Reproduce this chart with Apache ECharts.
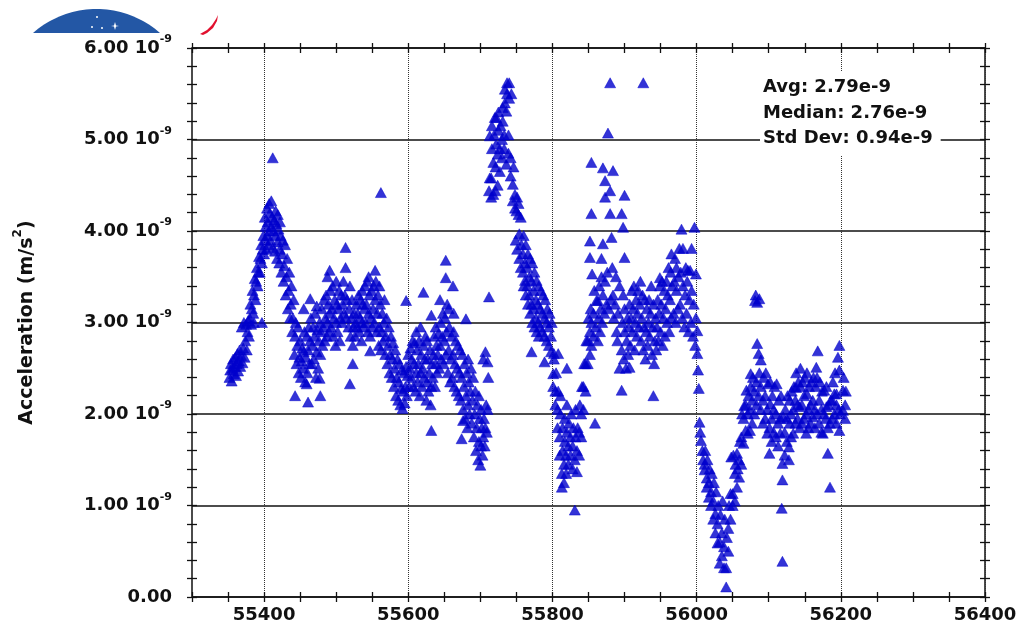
<!DOCTYPE html>
<html>
<head>
<meta charset="utf-8">
<script src="https://cdn.jsdelivr.net/npm/echarts@6/dist/echarts.min.js"></script>
<style>
  html, body { margin: 0; padding: 0; background: #fff; }
  #main { width: 1017px; height: 631px; }
</style>
</head>
<body>
<div id="main"></div>
<script>
// x = MJD (days), y = acceleration in units of 1e-9 m/s^2

// rise and first peak
var peak1 = [
  [55352,2.40],[55353,2.48],[55354,2.55],[55355,2.36],[55356,2.50],[55357,2.60],
  [55358,2.44],[55359,2.52],[55360,2.62],[55361,2.42],[55362,2.55],[55363,2.66],
  [55364,2.47],[55365,2.58],[55366,2.70],[55367,2.52],[55368,2.64],[55369,2.95],
  [55370,2.56],[55371,2.72],[55372,3.00],[55373,2.62],[55374,2.80],[55375,2.98],
  [55376,2.70],[55377,2.90],[55378,3.02],[55379,2.85],[55380,3.05],[55381,3.20],
  [55382,2.98],[55383,3.15],[55384,3.35],[55385,3.10],[55386,3.30],[55387,3.48],[55386,3.00],
  [55388,3.25],[55389,3.45],[55390,3.60],[55391,3.40],[55392,3.55],[55393,3.72],
  [55394,3.55],[55395,3.70],[55396,3.85],[55397,3.65],[55398,3.80],[55399,3.95],[55397,3.00],
  [55400,3.75],[55401,3.90],[55402,4.05],[55401,4.15],[55403,3.80],[55404,3.95],[55405,4.10],[55404,4.25],
  [55406,3.85],[55407,4.00],[55408,4.20],[55407,4.30],[55409,3.90],[55410,4.05],[55411,4.15],[55410,4.33],
  [55412,3.82],[55413,4.00],[55414,4.12],[55412,4.80],[55415,3.78],[55416,3.95],[55417,4.08],[55416,4.22],
  [55418,3.70],[55419,3.88],[55420,4.02],[55419,4.18],[55421,3.65],[55422,3.80],[55423,3.95],[55422,4.10],
  [55424,3.55],[55425,3.75],[55426,3.90],[55427,3.45],[55428,3.62],[55429,3.85],
  [55430,3.30],[55431,3.50],[55432,3.70],[55433,3.15],[55434,3.35],[55435,3.55],
  [55436,3.05],[55437,3.20],[55438,3.40],[55439,2.90],[55440,3.05],[55441,3.25]
];

var plateau1 = [
  [55442,2.65],[55443,2.85],[55444,3.00],[55445,2.55],[55446,2.75],[55447,2.95],
  [55448,2.45],[55449,2.62],[55450,2.80],[55443,2.20],[55451,2.40],[55452,2.58],[55453,2.72],
  [55454,2.50],[55455,2.68],[55456,2.90],[55455,3.15],[55457,2.35],[55458,2.62],[55459,2.85],[55464,3.26],
  [55460,2.45],[55461,2.70],[55462,2.95],[55461,2.13],[55459,2.33],[55463,2.55],[55464,2.80],[55465,3.05],
  [55466,2.55],[55467,2.75],[55468,2.95],[55469,2.60],[55470,2.85],[55471,3.10],[55473,3.18],
  [55472,2.40],[55473,2.68],[55474,2.92],[55475,2.50],[55476,2.80],[55477,3.00],[55477,2.39],[55478,2.20],
  [55478,2.65],[55479,2.90],[55480,3.15],[55481,2.75],[55482,2.95],[55483,3.25],
  [55484,2.80],[55485,3.05],[55486,3.30],[55487,2.85],[55488,3.00],[55489,3.20],[55488,3.50],
  [55490,2.90],[55491,3.10],[55492,3.35],[55491,3.57],[55493,2.95],[55494,3.15],[55495,3.40],
  [55496,2.85],[55497,3.05],[55498,3.25],[55499,2.75],[55500,3.00],[55501,3.20],[55500,3.45],
  [55502,2.90],[55503,3.15],[55504,3.35],[55505,2.80],[55506,3.05],[55507,3.30],
  [55508,3.00],[55509,3.20],[55510,3.45],[55511,3.10],[55512,3.30],[55513,3.60],
  [55514,3.05],[55515,3.25],[55513,3.82],[55517,2.95],[55518,3.15],[55519,3.40],[55519,2.33],
  [55520,2.85],[55521,3.05],[55522,3.25],[55523,2.75],[55524,2.95],[55525,3.10],[55523,2.55],
  [55526,2.85],[55527,3.00],[55528,3.20],[55529,2.95],[55530,3.10],[55531,3.30],
  [55532,2.90],[55533,3.05],[55534,3.25],[55535,2.80],[55536,3.00],[55537,3.20],[55536,3.35],
  [55538,2.95],[55539,3.15],[55540,3.40],[55541,3.00],[55542,3.20],[55543,3.45],
  [55544,2.90],[55545,3.10],[55546,3.30],[55545,3.50],[55547,2.85],[55548,3.05],[55549,3.35],[55547,2.69],
  [55550,2.95],[55551,3.15],[55552,3.40],[55554,3.57],[55553,3.00],[55554,3.25],[55555,3.45],
  [55556,2.90],[55557,3.10],[55558,3.30],[55559,2.75],[55560,2.95],[55561,3.20],[55560,3.40],
  [55562,2.70],[55563,2.90],[55564,3.10],[55562,4.42],[55565,2.80],[55566,3.00],[55567,3.25],
  [55568,2.65],[55569,2.85],[55570,3.05],[55571,2.55],[55572,2.75],[55573,2.95],
  [55574,2.45],[55575,2.65],[55576,2.85],[55577,2.40],[55578,2.60],[55579,2.78],
  [55580,2.30],[55581,2.50],[55582,2.70],[55583,2.20],[55584,2.40],[55585,2.60],
  [55586,2.15],[55587,2.35],[55588,2.55],[55589,2.10],[55590,2.28],[55591,2.48],
  [55592,2.06],[55593,2.25],[55594,2.45],[55595,2.12],[55596,2.30],[55597,2.52],[55597,3.24],
  [55598,2.20],[55599,2.42],[55600,2.65]
];

var plateau2 = [
  [55601,2.30],[55602,2.50],[55603,2.72],[55604,2.40],[55605,2.60],[55606,2.80],
  [55607,2.30],[55608,2.55],[55609,2.78],[55610,2.25],[55611,2.45],[55612,2.70],[55611,2.90],
  [55613,2.35],[55614,2.55],[55615,2.80],[55616,2.20],[55617,2.45],[55618,2.65],[55617,2.95],
  [55619,2.30],[55620,2.50],[55621,2.75],[55621,3.33],[55622,2.40],[55623,2.60],[55624,2.85],
  [55625,2.15],[55626,2.35],[55627,2.60],[55626,2.80],[55628,2.25],[55629,2.45],[55630,2.70],
  [55631,2.10],[55632,2.30],[55633,2.55],[55632,3.08],[55632,1.82],[55634,2.40],[55635,2.65],[55636,2.85],
  [55637,2.30],[55638,2.55],[55639,2.75],[55638,2.95],[55640,2.45],[55641,2.65],[55642,2.88],
  [55643,2.50],[55644,2.75],[55645,3.00],[55644,3.25],[55646,2.60],[55647,2.85],[55648,3.10],
  [55649,2.55],[55650,2.80],[55651,3.05],[55652,3.49],[55652,3.68],[55652,2.65],[55653,2.90],[55654,3.20],
  [55655,2.45],[55656,2.70],[55657,2.95],[55656,3.15],[55658,2.35],[55659,2.60],[55660,2.85],[55662,3.40],
  [55661,2.40],[55662,2.65],[55663,2.90],[55663,3.10],[55664,2.30],[55665,2.55],[55666,2.80],
  [55667,2.25],[55668,2.50],[55669,2.75],[55670,2.20],[55671,2.45],[55672,2.70],
  [55673,2.15],[55674,2.40],[55675,2.65],[55674,1.73],[55676,2.05],[55677,2.30],[55678,2.55],[55676,1.93],
  [55679,1.95],[55680,2.20],[55681,2.45],[55680,3.04],[55682,1.85],[55683,2.10],[55684,2.35],[55683,2.60],
  [55685,2.00],[55686,2.25],[55687,2.50],[55688,1.90],[55689,2.15],[55690,2.40],
  [55691,1.75],[55692,2.00],[55693,2.25],[55694,1.60],[55695,1.85],[55696,2.10],
  [55697,1.50],[55698,1.70],[55699,1.95],[55698,2.20],[55700,1.44],[55701,1.65],[55702,1.85],[55701,2.05],
  [55703,1.55],[55704,1.75],[55705,1.95],[55704,2.60],[55706,1.65],[55707,1.85],[55708,2.10],[55707,2.68],
  [55709,1.80],[55710,2.05],[55711,2.40],[55710,2.57]
];

// second peak and decay
var peak2 = [
  [55712,3.28],[55712,4.44],[55713,4.58],[55713,5.04],[55715,4.37],[55715,4.58],[55716,4.90],[55716,5.15],
  [55718,4.40],[55718,4.75],[55719,5.05],[55720,5.24],[55721,4.44],[55721,4.70],[55722,4.95],[55722,5.24],
  [55724,4.50],[55724,4.84],[55725,5.10],[55725,5.30],[55727,4.65],[55727,4.90],[55728,5.15],
  [55730,4.80],[55730,5.00],[55731,5.20],[55731,5.35],[55733,4.90],[55733,5.05],[55734,5.40],[55734,5.55],
  [55736,4.73],[55736,5.31],[55737,5.50],[55737,5.62],[55739,4.85],[55739,5.05],[55740,5.45],[55740,5.62],
  [55742,4.60],[55742,4.80],[55743,5.50],[55745,4.33],[55745,4.51],[55746,4.70],
  [55748,4.25],[55748,4.40],[55749,3.90],[55750,4.22],[55751,4.37],[55751,3.80],
  [55753,4.18],[55753,4.30],[55754,3.70],[55754,3.97],[55756,4.15],[55756,3.60],[55757,3.85],
  [55759,3.55],[55759,3.75],[55760,3.95],[55760,3.40],[55762,3.46],[55762,3.65],[55763,3.85],[55763,3.30],
  [55765,3.40],[55765,3.60],[55766,3.75],[55766,3.20],[55768,3.30],[55768,3.50],[55769,3.70],[55769,3.10],
  [55771,3.20],[55771,3.45],[55772,3.65],[55772,3.00],[55771,2.68],[55774,3.15],[55774,3.35],[55775,3.55],[55775,2.95],
  [55777,3.05],[55777,3.25],[55778,3.46],[55778,2.90],[55780,3.00],[55780,3.20],[55781,3.40],[55781,2.85],
  [55783,2.95],[55783,3.15],[55784,3.35],[55786,2.90],[55786,3.10],[55787,3.30],
  [55789,2.85],[55789,3.05],[55790,3.25],[55789,2.57],[55792,2.80],[55792,3.00],[55793,3.15],
  [55795,2.75],[55795,2.95],[55796,3.10],[55798,2.68],[55798,2.85],[55799,3.00]
];

// dip and third peak
var peak3 = [
  [55801,2.30],[55801,2.44],[55802,2.60],[55802,2.66],[55804,2.10],[55804,2.25],[55805,2.45],
  [55807,1.85],[55807,2.05],[55808,2.25],[55808,2.66],[55810,1.55],[55810,1.75],[55811,2.00],[55811,2.20],
  [55813,1.20],[55813,1.35],[55814,1.60],[55814,1.85],[55816,1.25],[55816,1.45],[55817,1.70],[55817,1.95],
  [55819,1.35],[55819,1.55],[55820,1.80],[55820,2.10],[55820,2.50],[55822,1.45],[55822,1.65],[55823,1.90],
  [55825,1.55],[55825,1.75],[55826,2.00],[55828,1.40],[55828,1.65],[55829,1.85],
  [55831,0.95],[55831,1.50],[55832,1.75],[55832,2.05],[55834,1.37],[55834,1.60],[55835,1.85],
  [55837,1.55],[55837,1.80],[55838,2.10],[55840,1.75],[55840,2.00],[55841,2.30],
  [55843,2.05],[55843,2.30],[55844,2.55],[55846,2.25],[55846,2.55],[55847,2.80],
  [55849,2.55],[55849,2.80],[55850,3.05],[55852,2.65],[55852,2.90],[55853,3.15],[55852,3.71],[55852,3.89],
  [55854,2.75],[55854,3.00],[55855,3.53],[55854,4.19],[55854,4.75],[55857,2.85],[55857,3.10],[55858,3.35],
  [55859,1.90],[55860,2.95],[55861,3.24],[55863,3.24],[55863,2.80],[55864,3.05],[55865,3.40],
  [55866,2.90],[55867,3.15],[55868,3.50],[55868,3.70],[55869,3.00],[55870,3.30],[55870,3.86],[55870,4.69],
  [55872,3.10],[55873,3.45],[55873,4.37],[55873,4.55],[55875,3.20],[55876,3.55],[55877,5.07],
  [55878,3.15],[55880,4.19],[55880,4.44],[55880,5.62],[55881,3.25],[55882,3.93],[55883,3.60],
  [55884,3.30],[55884,4.66],[55885,3.05],[55887,3.20],[55888,3.50],[55889,2.90],
  [55890,2.80],[55891,3.10],[55893,2.50],[55893,3.40],[55896,4.19],[55896,2.26],
  [55896,2.70],[55897,3.00],[55898,3.30],[55898,4.04],[55899,2.60],[55900,2.90],[55900,3.15],[55900,3.71],[55900,4.39]
];

var plateau3 = [
  [55902,2.50],[55903,2.80],[55904,3.05],[55905,2.65],[55906,2.95],[55907,3.20],[55907,2.51],
  [55908,2.75],[55909,3.05],[55910,3.35],[55911,2.90],[55912,3.15],[55913,3.40],
  [55914,2.70],[55915,3.00],[55916,3.25],[55917,2.85],[55918,3.10],[55919,3.35],
  [55920,2.95],[55921,3.20],[55922,3.45],[55923,2.80],[55924,3.05],[55925,3.30],
  [55926,2.70],[55927,2.95],[55928,3.25],[55926,5.62],[55929,2.60],[55930,2.90],[55931,3.15],
  [55932,2.75],[55933,3.00],[55934,3.25],[55935,2.85],[55936,3.10],[55937,3.40],
  [55938,2.65],[55939,2.95],[55940,3.20],[55940,2.20],[55941,2.55],[55942,2.80],[55943,3.05],
  [55944,2.70],[55945,2.95],[55946,3.25],[55947,2.80],[55948,3.10],[55949,3.40],[55949,3.49],
  [55950,2.90],[55951,3.20],[55952,3.45],[55953,2.75],[55954,3.05],[55955,3.35],
  [55956,2.85],[55957,3.15],[55958,3.45],[55959,3.00],[55960,3.30],[55961,3.60],
  [55962,2.90],[55963,3.25],[55964,3.55],[55965,3.05],[55966,3.40],[55965,3.75],
  [55968,3.10],[55969,3.45],[55970,3.70],[55971,3.00],[55972,3.35],[55972,3.60],
  [55974,3.15],[55975,3.50],[55976,3.81],[55977,3.20],[55978,3.55],[55979,4.02],
  [55980,3.05],[55981,3.40],[55981,3.81],[55983,2.95],[55984,3.30],[55985,3.60],
  [55986,3.10],[55987,3.45],[55988,3.57],[55989,2.90],[55990,3.25],[55991,3.57],
  [55992,3.00],[55993,3.35],[55993,3.81],[55995,2.85],[55996,3.20],[55997,4.04],
  [55998,2.75],[55999,3.05],[55999,3.53]
];

// deep minimum
var minimum = [
  [56001,2.91],[56001,2.66],[56002,2.48],[56003,2.28],[56004,1.91],[56005,1.80],[56006,1.71],
  [56008,1.60],[56009,1.50],[56011,1.45],[56011,1.39],[56012,1.60],[56014,1.30],[56014,1.20],[56015,1.50],
  [56017,1.09],[56017,1.25],[56018,1.40],[56020,1.00],[56020,1.15],[56021,1.35],
  [56023,0.85],[56023,1.05],[56024,1.25],[56026,0.91],[56026,0.70],[56027,1.15],
  [56029,0.59],[56029,0.80],[56030,1.00],[56032,0.37],[56032,0.60],[56033,0.90],
  [56035,0.45],[56035,0.70],[56036,1.05],[56038,0.32],[56038,0.55],[56039,0.85],
  [56041,0.11],[56041,0.32],[56042,0.65],[56044,0.50],[56044,0.75],[56045,1.00],
  [56047,0.85],[56047,1.13],[56048,1.53],[56050,1.00],[56050,1.13],[56051,1.55],
  [56053,1.05],[56053,1.35],[56054,1.45],[56056,1.20],[56056,1.57],[56057,1.40],
  [56059,1.31],[56059,1.50],[56060,1.70],[56062,1.45],[56062,1.75],[56063,2.00],
  [56065,1.68],[56065,1.95],[56066,2.09],[56068,1.82],[56068,2.10],[56069,2.26],
  [56071,1.79],[56071,2.00],[56072,2.20],[56074,1.82],[56074,2.05],[56075,2.30],[56075,2.44],
  [56077,1.90],[56077,2.15],[56078,2.40],[56080,2.00],[56080,2.25],[56081,3.24],[56082,3.30],
  [56083,2.10],[56083,2.35],[56084,2.77],[56084,3.22],[56086,2.20],[56086,2.66],[56087,3.26],[56087,2.45],
  [56089,2.05],[56089,2.30],[56089,2.59]
];

var tail = [
  [56092,1.90],[56092,2.15],[56093,2.40],[56095,1.95],[56095,2.20],[56096,2.45],
  [56098,1.79],[56098,2.05],[56099,2.33],[56101,1.57],[56101,1.85],[56102,2.11],[56102,2.35],
  [56104,1.70],[56104,1.95],[56105,2.20],[56107,1.80],[56107,2.05],[56108,2.30],
  [56110,1.75],[56110,2.00],[56111,2.33],[56113,1.65],[56113,1.90],[56114,2.15],
  [56116,1.79],[56116,1.95],[56117,2.20],[56118,0.97],[56119,0.39],[56119,1.28],[56119,1.46],[56120,1.97],
  [56122,1.55],[56122,1.80],[56123,2.05],[56125,1.70],[56125,1.95],[56126,2.20],
  [56128,1.50],[56128,1.64],[56129,1.90],[56129,2.15],[56131,1.75],[56131,2.00],[56132,2.25],
  [56134,1.79],[56134,2.05],[56135,2.30],[56137,1.90],[56137,2.15],[56138,2.29],[56138,2.45],
  [56140,1.95],[56140,2.10],[56141,2.35],[56143,1.85],[56143,2.08],[56144,2.30],[56144,2.50],
  [56146,1.90],[56146,2.10],[56147,2.35],[56149,1.95],[56149,2.20],[56150,2.40],
  [56152,1.79],[56152,2.00],[56153,2.22],[56153,2.45],[56155,1.85],[56155,2.05],[56156,2.30],
  [56158,1.90],[56158,2.10],[56159,2.35],[56161,1.97],[56161,2.15],[56162,2.40],
  [56164,1.85],[56164,2.05],[56165,2.30],[56166,2.51],[56167,2.00],[56167,2.40],[56168,2.69],
  [56170,1.90],[56170,2.15],[56171,2.35],[56173,1.80],[56173,2.05],[56174,2.25],
  [56175,1.79],[56177,2.00],[56177,2.26],[56179,1.95],[56180,2.08],[56180,2.30],
  [56182,1.57],[56182,1.85],[56183,2.10],[56185,1.20],[56185,1.90],[56186,2.15],
  [56188,1.95],[56188,2.15],[56189,2.35],[56191,2.00],[56191,2.22],[56192,2.45],
  [56194,1.90],[56194,2.10],[56194,2.22],[56196,2.62],[56197,2.05],[56198,2.48],
  [56198,1.82],[56199,2.00],[56198,2.75],[56203,2.04],[56203,2.26],[56204,2.40],
  [56206,1.95],[56206,2.10],[56207,2.25]
];

var xLabels = [55400, 55600, 55800, 56000, 56200, 56400];
var statLines = ['Avg: 2.79e-9', 'Median: 2.76e-9', 'Std Dev: 0.94e-9'];

var xMin = 55300, xMax = 56400, yMin = 0, yMax = 6;
var xTicks = [];
for (var t = xMin; t <= xMax; t += 50) xTicks.push(t);
var yTicks = [];
for (var k = 0; k <= 30; k++) yTicks.push(k / 5);

var FONT = '"DejaVu Sans", Verdana, sans-serif';
var INK = '#111';

// tick-only axis: shifted outward by 5px, ticks drawn inward 10px so they cross the frame
function tickAxis(pos, ticks, min, max) {
  return {
    type: 'value', position: pos, min: min, max: max, offset: 5,
    axisLine: { show: false, onZero: false },
    axisTick: { show: true, inside: true, length: 10, customValues: ticks, lineStyle: { color: INK, width: 1.3 } },
    axisLabel: { show: false },
    splitLine: { show: false }
  };
}

// logo dome (decoration, top-left)
function domePoints(cx, cy, r, cutY) {
  var half = Math.acos((cy - cutY) / r);
  var pts = [];
  for (var i = 0; i <= 40; i++) {
    var a = -half + (2 * half) * i / 40;
    pts.push([cx + r * Math.sin(a), cy - r * Math.cos(a)]);
  }
  return pts;
}

var chart = echarts.init(document.getElementById('main'));
chart.setOption({
  animation: false,
  backgroundColor: '#fff',
  grid: {
    left: 192, right: 32, top: 48, bottom: 34,
    outerBoundsMode: 'none', containLabel: false,
    show: true, borderColor: INK, borderWidth: 1.5, backgroundColor: 'transparent'
  },
  xAxis: [
    {
      type: 'value', position: 'bottom', min: xMin, max: xMax,
      axisLine: { show: false, onZero: false },
      axisTick: { show: false, customValues: xLabels },
      axisLabel: {
        customValues: xLabels, margin: 9,
        formatter: function (v) { return String(v); },
        fontFamily: FONT, fontWeight: 'bold', fontSize: 18, color: INK
      },
      splitLine: { show: true, lineStyle: { type: 'dotted', color: '#333', width: 1 } }
    },
    tickAxis('bottom', xTicks, xMin, xMax),
    tickAxis('top', xTicks, xMin, xMax)
  ],
  yAxis: [
    {
      type: 'value', position: 'left', min: yMin, max: yMax, interval: 1,
      axisLine: { show: false, onZero: false },
      axisTick: { show: false },
      axisLabel: {
        margin: 20,
        formatter: function (v) {
          return v === 0 ? '{a|0.00}' : '{a|' + v.toFixed(2) + ' 10}{b|-9}';
        },
        rich: {
          a: { fontFamily: FONT, fontWeight: 'bold', fontSize: 18, color: INK, lineHeight: 28 },
          b: { fontFamily: FONT, fontWeight: 'bold', fontSize: 11, color: INK, lineHeight: 11, verticalAlign: 'top' }
        }
      },
      splitLine: { show: true, lineStyle: { type: 'solid', color: INK, width: 1.5 } },
      name: '{a|Acceleration (m/s}{b|2}{a|)}',
      nameLocation: 'middle',
      nameGap: 150,
      nameTextStyle: {
        rich: {
          a: { fontFamily: FONT, fontWeight: 'bold', fontSize: 19, color: INK, lineHeight: 30 },
          b: { fontFamily: FONT, fontWeight: 'bold', fontSize: 12, color: INK, lineHeight: 12, verticalAlign: 'top' }
        }
      }
    },
    tickAxis('left', yTicks, yMin, yMax),
    tickAxis('right', yTicks, yMin, yMax)
  ],
  graphic: [
    {
      type: 'text', left: 760, top: 71, z: 100,
      style: {
        text: statLines.join('\n'),
        font: 'bold 18px ' + FONT,
        fill: INK, lineHeight: 25.5,
        backgroundColor: '#fff', padding: [4, 8, 4, 3]
      }
    },
    { type: 'polygon', z: 100, shape: { points: domePoints(96.5, 105, 96, 33) }, style: { fill: '#2357a5' } },
    { type: 'circle', z: 101, shape: { cx: 97, cy: 17, r: 1 }, style: { fill: '#fff' } },
    { type: 'circle', z: 101, shape: { cx: 92, cy: 27, r: 1 }, style: { fill: '#fff' } },
    { type: 'circle', z: 101, shape: { cx: 102, cy: 28, r: 1 }, style: { fill: '#fff' } },
    { type: 'polygon', z: 101, shape: { points: [[115, 22], [116, 25.5], [119, 26], [116, 26.5], [115, 30], [114, 26.5], [111, 26], [114, 25.5]] }, style: { fill: '#fff' } },
    { type: 'polygon', z: 100, shape: { points: [[200, 34], [207, 30], [212, 25], [216, 19], [218, 15], [217, 21], [213, 28], [207, 33], [203, 35]] }, style: { fill: '#e2102e' } }
  ],
  series: [{
    type: 'scatter',
    xAxisIndex: 0, yAxisIndex: 0,
    symbol: 'triangle',
    symbolSize: [11, 10],
    itemStyle: { color: '#0000cc', borderColor: '#0000cc', borderWidth: 0.6 },
    silent: true,
    data: [].concat(peak1, plateau1, plateau2, peak2, peak3, plateau3, minimum, tail)
  }]
});
</script>
</body>
</html>
